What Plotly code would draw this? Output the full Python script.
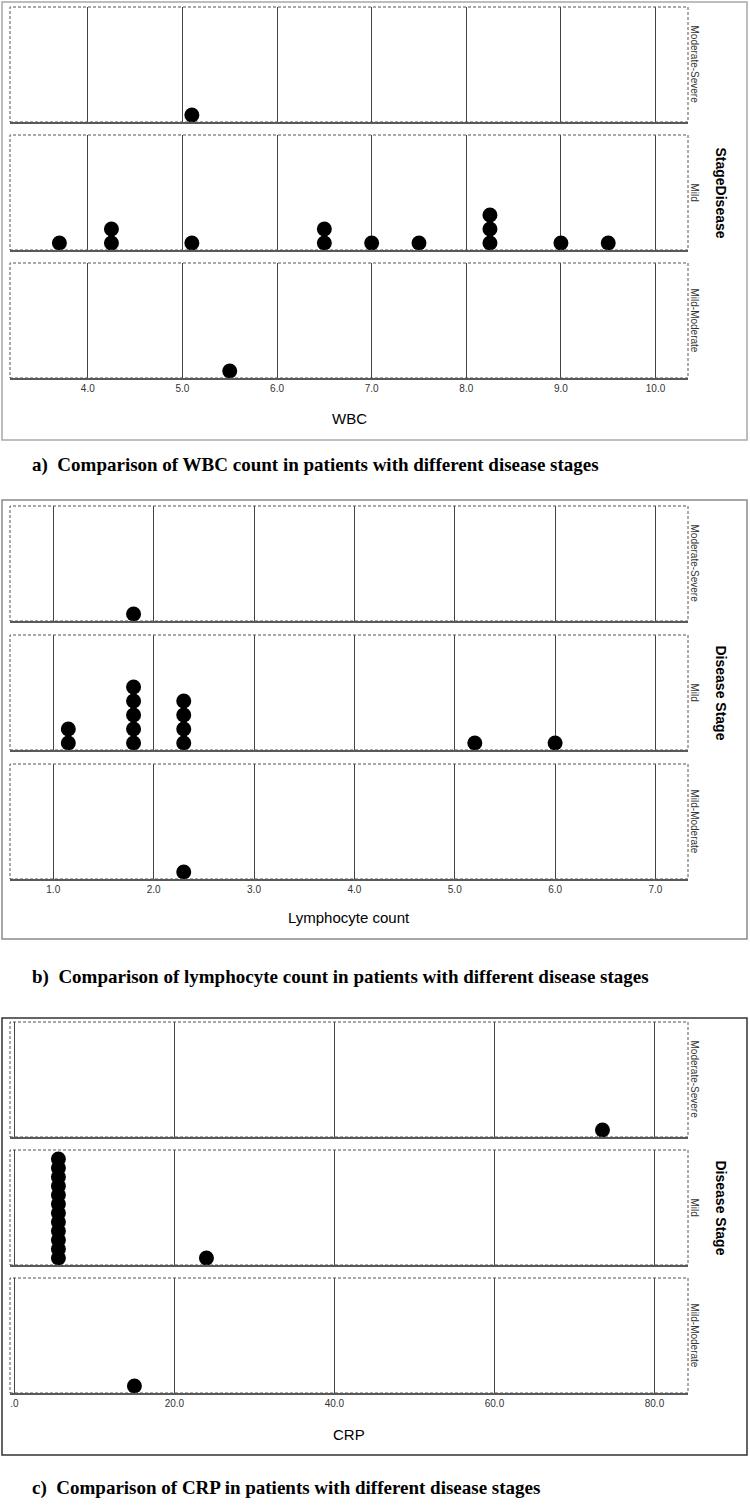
import plotly.graph_objects as go
from collections import Counter

# ── Data ──────────────────────────────────────────────────────────────────────

STAGES = ["Moderate-Severe", "Mild", "Mild-Moderate"]

WBC_MOD_SEVERE = [5.1]
WBC_MILD = [3.7, 4.25, 4.25, 5.1, 6.5, 6.5, 7.0, 7.5, 8.25, 8.25, 8.25, 9.0, 9.5]
WBC_MILD_MODERATE = [5.5]
WBC_TICKS = [4, 5, 6, 7, 8, 9, 10]
WBC_TICKTEXT = ["4.0", "5.0", "6.0", "7.0", "8.0", "9.0", "10.0"]

LYM_MOD_SEVERE = [1.8]
LYM_MILD = [1.15, 1.15, 1.8, 1.8, 1.8, 1.8, 1.8, 2.3, 2.3, 2.3, 2.3, 5.2, 6.0]
LYM_MILD_MODERATE = [2.3]
LYM_TICKS = [1, 2, 3, 4, 5, 6, 7]
LYM_TICKTEXT = ["1.0", "2.0", "3.0", "4.0", "5.0", "6.0", "7.0"]

CRP_MOD_SEVERE = [73.5]
CRP_MILD = [5.5, 5.5, 5.5, 5.5, 5.5, 5.5, 5.5, 5.5, 5.5, 5.5, 5.5, 5.5, 24.0]
CRP_MILD_MODERATE = [15.0]
CRP_TICKS = [0, 20, 40, 60, 80]
CRP_TICKTEXT = [".0", "20.0", "40.0", "60.0", "80.0"]

# ── Layout constants (pixels) ─────────────────────────────────────────────────

W, H = 750, 1507
PLOT_X0, PLOT_X1 = 10, 688
FACET_H = 115
DOT_SIZE = 15
SANS = "Liberation Sans Narrow, Arial Narrow, Liberation Sans, Arial"
SERIF = "Liberation Serif, Times New Roman, serif"

CHARTS = [
    dict(series=[WBC_MOD_SEVERE, WBC_MILD, WBC_MILD_MODERATE],
         ticks=WBC_TICKS, ticktext=WBC_TICKTEXT, xrange=[3.178, 10.343],
         xtitle="WBC", side_title="StageDisease",
         frame=(2, 2, 747, 440), frame_color="#a8a8a8",
         tops=[7, 135, 263], xtitle_y=419, step=14,
         caption="a)\u00a0\u00a0Comparison of WBC count in patients with different disease stages",
         caption_y=465),
    dict(series=[LYM_MOD_SEVERE, LYM_MILD, LYM_MILD_MODERATE],
         ticks=LYM_TICKS, ticktext=LYM_TICKTEXT, xrange=[0.569, 7.324],
         xtitle="Lymphocyte count", side_title="Disease Stage",
         frame=(2, 500, 747, 939), frame_color="#8a8a8a",
         tops=[506, 635, 764], xtitle_y=918, step=14,
         caption="b)\u00a0\u00a0Comparison of lymphocyte count in patients with different disease stages",
         caption_y=977),
    dict(series=[CRP_MOD_SEVERE, CRP_MILD, CRP_MILD_MODERATE],
         ticks=CRP_TICKS, ticktext=CRP_TICKTEXT, xrange=[-0.55, 84.19],
         xtitle="CRP", side_title="Disease Stage",
         frame=(2, 1018, 747, 1455), frame_color="#333333",
         tops=[1022, 1150, 1278], xtitle_y=1434, step=9,
         caption="c)\u00a0\u00a0Comparison of CRP in patients with different disease stages",
         caption_y=1488),
]


def _px(x):
    return x / W


def _py(y):
    return 1 - y / H


def _stack(values):
    """Dot-plot stacking: k-th occurrence of a value sits k dots high."""
    seen = Counter()
    ys = []
    for v in values:
        seen[v] += 1
        ys.append(seen[v])
    return ys


def _label(text, x, y, **kw):
    """Paper-positioned annotation centred on pixel (x, y)."""
    ann = dict(text=text, xref="paper", yref="paper", x=_px(x), y=_py(y),
               xanchor="center", yanchor="middle", showarrow=False)
    ann.update(kw)
    return ann


fig = go.Figure()
shapes, annotations = [], []
layout_axes = {}

for ci, chart in enumerate(CHARTS):
    step = chart["step"]
    y_lo = 1 - 7 / step
    y_hi = y_lo + FACET_H / step
    for fi, values in enumerate(chart["series"]):
        n = ci * 3 + fi + 1
        xa = "x" if n == 1 else f"x{n}"
        ya = "y" if n == 1 else f"y{n}"
        top = chart["tops"][fi]
        fig.add_trace(go.Scatter(
            x=values, y=_stack(values),
            mode="markers", xaxis=xa, yaxis=ya,
            marker=dict(color="black", size=DOT_SIZE, line=dict(width=0)),
            cliponaxis=False, showlegend=False,
            hovertemplate="%{x}<extra></extra>",
        ))
        bottom_facet = fi == 2
        layout_axes["xaxis" if n == 1 else f"xaxis{n}"] = dict(
            domain=[_px(PLOT_X0), _px(PLOT_X1)], anchor=ya,
            range=chart["xrange"], tickvals=chart["ticks"],
            ticktext=chart["ticktext"], showticklabels=bottom_facet,
            ticks="", showgrid=True, gridcolor="#444444", gridwidth=1,
            zeroline=False, showline=True, linecolor="#5a5a5a", linewidth=2,
            tickfont=dict(family=SANS, size=10, color="#333333"),
        )
        layout_axes["yaxis" if n == 1 else f"yaxis{n}"] = dict(
            domain=[_py(top + FACET_H), _py(top)], anchor=xa,
            range=[y_lo, y_hi], showticklabels=False, showgrid=False,
            zeroline=False, showline=False, fixedrange=True,
        )
        # dashed facet frame
        shapes.append(dict(
            type="rect", xref=f"{xa} domain", yref=f"{ya} domain",
            x0=0, x1=1, y0=0, y1=1,
            line=dict(color="#555555", width=1, dash="3px,2px"),
        ))
        # strip label
        annotations.append(_label(
            STAGES[fi], 694, top + FACET_H / 2, textangle=90,
            font=dict(family="Liberation Sans, Arial", size=10, color="#333333"),
        ))

    x0, y0, x1, y1 = chart["frame"]
    shapes.append(dict(
        type="rect", xref="paper", yref="paper",
        x0=_px(x0), x1=_px(x1), y0=_py(y1), y1=_py(y0),
        line=dict(color=chart["frame_color"], width=1.5),
    ))
    annotations.append(_label(
        chart["xtitle"], 349, chart["xtitle_y"],
        font=dict(family=SANS, size=15, color="black"),
    ))
    annotations.append(_label(
        chart["side_title"], 721, chart["tops"][1] + FACET_H / 2, textangle=90,
        font=dict(family="Liberation Sans, Arial", size=14, color="black",
                  weight="bold"),
    ))
    annotations.append(_label(
        chart["caption"], 30, chart["caption_y"], xanchor="left",
        font=dict(family=SERIF, size=19, color="black", weight="bold"),
    ))

fig.update_layout(
    width=W, height=H,
    margin=dict(l=0, r=0, t=0, b=0),
    plot_bgcolor="white", paper_bgcolor="white",
    shapes=shapes, annotations=annotations,
    **layout_axes,
)

# drop the browser's default 8px body margin so the figure sits at (0, 0)
fig.write_html("out.html", config={"displayModeBar": False},
               post_script="document.body.style.margin='0';")
